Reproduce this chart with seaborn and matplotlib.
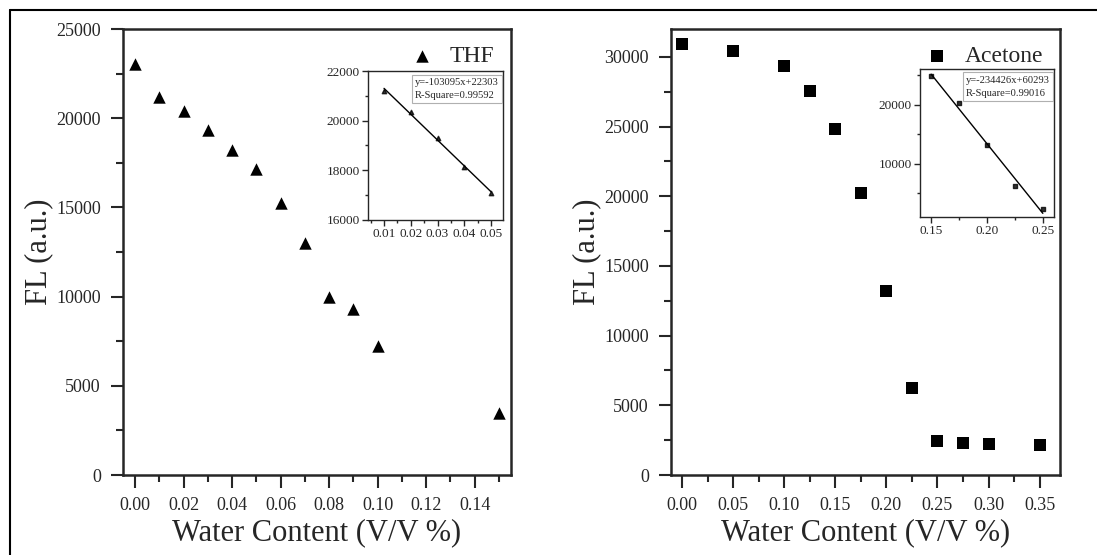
import numpy as np
import pandas as pd
import matplotlib
matplotlib.use("Agg")
import matplotlib.pyplot as plt
from matplotlib.ticker import MultipleLocator, FormatStrFormatter
import seaborn as sns

# THF series
thf_water = [0.00, 0.01, 0.02, 0.03, 0.04, 0.05, 0.06, 0.07, 0.08, 0.09, 0.10, 0.15]
thf_fl = [23050, 21200, 20400, 19330, 18200, 17130, 15230, 13000, 9960, 9310, 7250, 3460]

# Acetone series
ace_water = [0.00, 0.05, 0.10, 0.125, 0.15, 0.175, 0.20, 0.225, 0.25, 0.275, 0.30, 0.35]
ace_fl = [30900, 30420, 29360, 27550, 24800, 20210, 13200, 6220, 2420, 2270, 2220, 2150]

# insets: linear range
thf_fit_x = [0.01, 0.02, 0.03, 0.04, 0.05]
thf_fit_y = [21200, 20350, 19300, 18150, 17100]
ace_fit_x = [0.15, 0.175, 0.20, 0.225, 0.25]
ace_fit_y = [24800, 20210, 13200, 6220, 2420]

thf_eq = "y=-103095x+22303\nR-Square=0.99592"
ace_eq = "y=-234426x+60293\nR-Square=0.99016"

sns.set_style("ticks")
plt.rcParams['font.family'] = ['Liberation Serif', 'DejaVu Serif']

fig = plt.figure(figsize=(10.97, 5.55), dpi=100)

# outer frame lines (top and left only)
fig.add_artist(plt.Line2D([10/1097, 1.0], [1-10/555, 1-10/555], transform=fig.transFigure, color='black', lw=1.5))
fig.add_artist(plt.Line2D([10/1097, 10/1097], [0, 1-10/555], transform=fig.transFigure, color='black', lw=1.5))

ax1 = fig.add_axes([123/1097, 80/555, 388/1097, 446/555])
ax2 = fig.add_axes([671/1097, 80/555, 389/1097, 446/555])
in1 = fig.add_axes([368/1097, 335/555, 135/1097, 149/555])
in2 = fig.add_axes([920/1097, 338/555, 134/1097, 148/555])


def style_main(ax):
    for s in ax.spines.values():
        s.set_linewidth(1.8)
        s.set_visible(True)
    ax.tick_params(which='major', direction='out', length=9, width=1.5, labelsize=13, pad=7)
    ax.tick_params(which='minor', direction='out', length=5, width=1.5)
    ax.tick_params(top=False, right=False)
    ax.set_xlabel("Water Content (V/V %)", fontsize=22, labelpad=3)
    ax.set_ylabel("FL (a.u.)", fontsize=22, labelpad=2)
    ax.legend(loc='upper right', frameon=False, fontsize=17, handlelength=1.0,
              handletextpad=0.7, borderaxespad=0.3)


def style_inset(ax):
    for s in ax.spines.values():
        s.set_linewidth(1.0)
        s.set_visible(True)
    ax.tick_params(which='major', direction='out', length=4, width=1.0, labelsize=9.5, pad=2)
    ax.tick_params(which='minor', direction='out', length=2.5, width=1.0)
    ax.set_xlabel("")
    ax.set_ylabel("")


# left panel
df_thf = pd.DataFrame({"water": thf_water, "fl": thf_fl})
sns.scatterplot(data=df_thf, x="water", y="fl", marker="^", s=80, color="black",
                edgecolor="black", linewidth=0, label="THF", ax=ax1)
ax1.set_xlim(-0.005, 0.155)
ax1.set_ylim(0, 25000)
ax1.xaxis.set_major_locator(MultipleLocator(0.02))
ax1.xaxis.set_minor_locator(MultipleLocator(0.01))
ax1.yaxis.set_major_locator(MultipleLocator(5000))
ax1.yaxis.set_minor_locator(MultipleLocator(2500))
ax1.xaxis.set_major_formatter(FormatStrFormatter('%.2f'))
style_main(ax1)

# right panel
df_ace = pd.DataFrame({"water": ace_water, "fl": ace_fl})
sns.scatterplot(data=df_ace, x="water", y="fl", marker="s", s=75, color="black",
                edgecolor="black", linewidth=0, label="Acetone", ax=ax2)
ax2.set_xlim(-0.011, 0.37)
ax2.set_ylim(0, 32000)
ax2.xaxis.set_major_locator(MultipleLocator(0.05))
ax2.xaxis.set_minor_locator(MultipleLocator(0.025))
ax2.yaxis.set_major_locator(MultipleLocator(5000))
ax2.yaxis.set_minor_locator(MultipleLocator(2500))
ax2.xaxis.set_major_formatter(FormatStrFormatter('%.2f'))
style_main(ax2)

# insets
df_tf = pd.DataFrame({"x": thf_fit_x, "y": thf_fit_y})
sns.regplot(data=df_tf, x="x", y="y", ci=None, marker="^", color="black",
            scatter_kws={"s": 10}, line_kws={"lw": 1.0}, truncate=True, ax=in1)
in1.set_xlim(0.004, 0.0545)
in1.set_ylim(16000, 22000)
in1.xaxis.set_major_locator(MultipleLocator(0.01))
in1.xaxis.set_minor_locator(MultipleLocator(0.005))
in1.yaxis.set_major_locator(MultipleLocator(2000))
in1.yaxis.set_minor_locator(MultipleLocator(1000))
in1.xaxis.set_major_formatter(FormatStrFormatter('%.2f'))
style_inset(in1)
in1.text(0.97, 0.955, thf_eq, transform=in1.transAxes, ha='right', va='top',
         multialignment='left', fontsize=7.6, linespacing=1.6,
         bbox=dict(boxstyle='square,pad=0.3', facecolor='white', edgecolor='#b0b0b0', lw=0.8))

df_af = pd.DataFrame({"x": ace_fit_x, "y": ace_fit_y})
sns.regplot(data=df_af, x="x", y="y", ci=None, marker="s", color="black",
            scatter_kws={"s": 10}, line_kws={"lw": 1.0}, truncate=True, ax=in2)
in2.set_xlim(0.14, 0.26)
in2.set_ylim(1000, 26000)
in2.xaxis.set_major_locator(MultipleLocator(0.05))
in2.xaxis.set_minor_locator(MultipleLocator(0.025))
in2.yaxis.set_major_locator(MultipleLocator(10000))
in2.yaxis.set_minor_locator(MultipleLocator(5000))
in2.xaxis.set_major_formatter(FormatStrFormatter('%.2f'))
style_inset(in2)
in2.text(0.97, 0.955, ace_eq, transform=in2.transAxes, ha='right', va='top',
         multialignment='left', fontsize=7.6, linespacing=1.6,
         bbox=dict(boxstyle='square,pad=0.3', facecolor='white', edgecolor='#b0b0b0', lw=0.8))

fig.savefig("out.png", dpi=100)
